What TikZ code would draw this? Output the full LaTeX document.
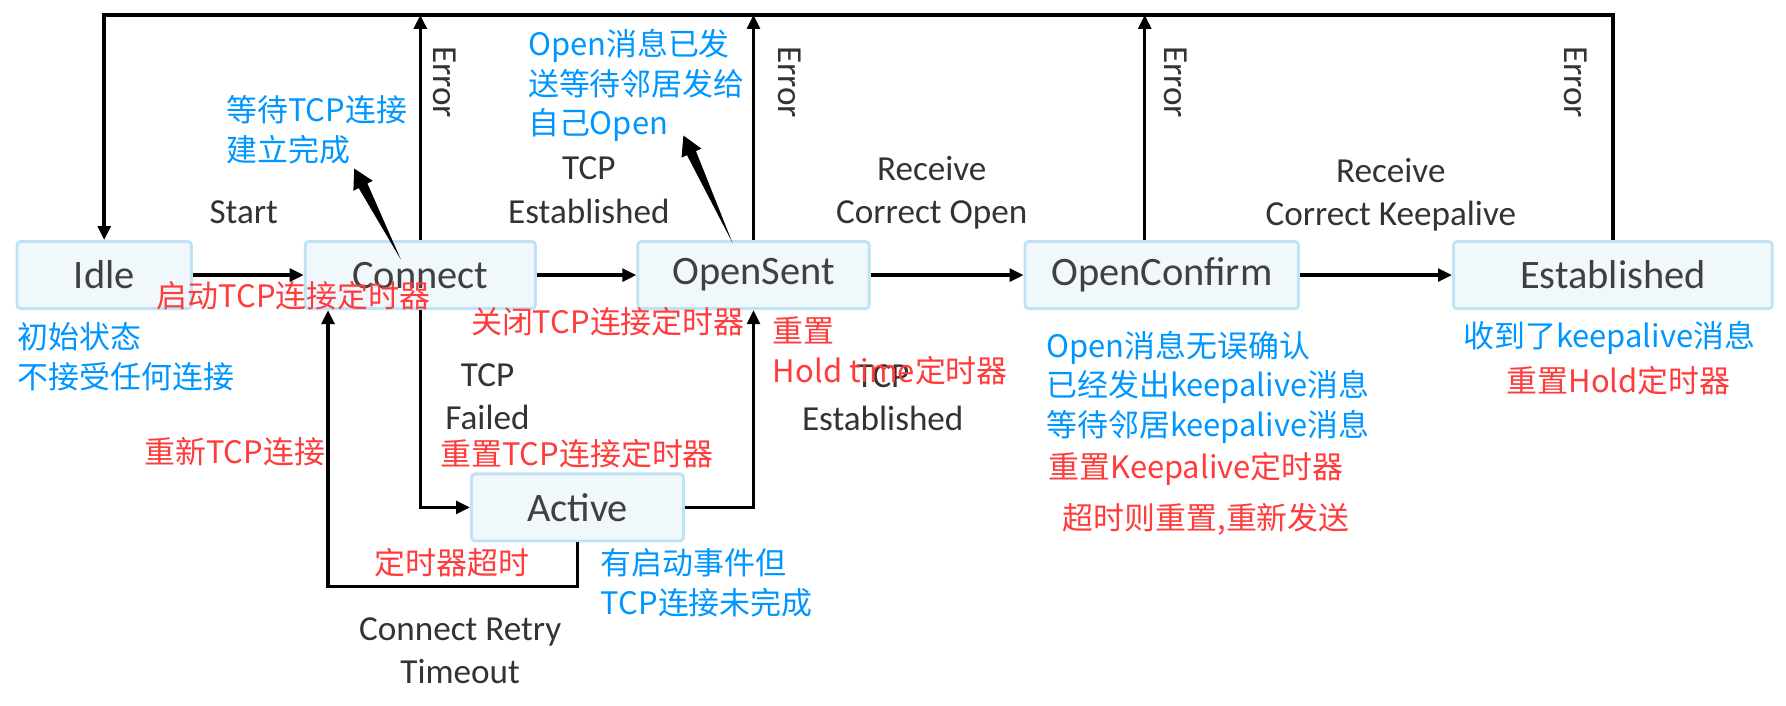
\documentclass[tikz,border=0pt]{standalone}
\usepackage{fontspec}
\setmainfont{Carlito}
\newfontfamily\cjk{Noto Sans CJK SC}
\usetikzlibrary{arrows.meta, calc}
\definecolor{boxfill}{HTML}{F1F8FC}
\definecolor{boxline}{HTML}{BFE3F5}
\definecolor{statetxt}{HTML}{404040}
\definecolor{lbltxt}{HTML}{333333}
\definecolor{noteblue}{HTML}{0096FF}
\definecolor{notered}{HTML}{FF3B3B}

\tikzset{
  state/.style={draw=boxline, fill=boxfill, line width=0.8pt, rounded corners=1pt,
    minimum height=19.1pt, inner sep=0pt, text=statetxt, font=\fontsize{11.5}{14}\selectfont},
  flow/.style={draw=black, line width=1pt, line join=miter, -{Triangle[length=4pt, width=3.6pt]}},
  lbl/.style={text=lbltxt, font=\fontsize{10}{12.3}\selectfont, align=center, inner sep=0pt},
  errlbl/.style={lbl, rotate=-90},
  bluenote/.style={text=noteblue, font=\cjk\fontsize{8.8}{11.3}\selectfont, align=left, inner sep=0pt},
  rednote/.style={text=notered, font=\cjk\fontsize{8.8}{11.6}\selectfont, align=left, inner sep=0pt}
}

% tapered pointer from a state to its note
\newcommand{\pointer}[2]{%
  \coordinate (pb) at ($(#2)!5.5pt!(#1)$);
  \fill[black] (#1) -- ($(pb)!1.4pt!90:(#2)$) -- ($(pb)!3.1pt!90:(#2)$) -- (#2)
    -- ($(pb)!3.1pt!-90:(#2)$) -- ($(pb)!1.4pt!-90:(#2)$) -- cycle;}

\begin{document}
\begin{tikzpicture}[x=0.32407pt, y=-0.32407pt]

\useasboundingbox[fill=white] (0,0) rectangle (1568,619);

% ============================================================
% States
% ============================================================
\node[state, minimum width=49.6pt] (idle) at (91.5,241.5) {Idle};
\node[state, minimum width=65.5pt] (connect) at (369,241.5) {Connect};
\node[state, minimum width=65.8pt] (opensent) at (661.5,241.5) {OpenSent};
\node[state, minimum width=77.8pt] (openconfirm) at (1020,241.5) {OpenConfirm};
\node[state, minimum width=90.7pt] (established) at (1416,241.5) {Established};
\node[state, minimum width=60.3pt] (active) at (507,445.5) {Active};

\coordinate (topL) at (91.5,13);
\coordinate (retry) at (288,515);

% ============================================================
% Transitions
% ============================================================
\draw[flow] (idle) -- (connect);
\draw[flow] (connect) -- (opensent);
\draw[flow] (opensent) -- (openconfirm);
\draw[flow] (openconfirm) -- (established);

% Error paths back to Idle
\draw[flow] (established.north) |- (topL) -- (idle.north);
\draw[flow] (connect.north) -- (connect.north |- topL);
\draw[flow] (opensent.north) -- (opensent.north |- topL);
\draw[flow] ($(openconfirm.north)+(-15,0)$) -- ($(openconfirm.north |- topL)+(-15,0)$);

% Connect / Active loop
\draw[flow] (connect.south) |- (active.west);
\draw[flow] (active.east) -| (opensent.south);
\draw[flow] (active.south) |- (retry) -- (retry |- connect.south);

% Event labels
\node[lbl] (start) at (214,186) {Start};
\node[lbl] (tcpest) at (517,167) {TCP\\Established};
\node[lbl] (rcvopen) at (818,169) {Receive\\Correct Open};
\node[lbl] (rcvkeep) at (1221,171) {Receive\\Correct Keepalive};
\node[lbl] (tcpfail) at (428,348) {TCP\\Failed};
\node[lbl] (tcpest2) at (775,349) {TCP\\Established};
\node[lbl] (retrylbl) at (404,571) {Connect Retry\\Timeout};
\foreach \ex/\nm in {390/err1, 693/err2, 1032/err3, 1383/err4} {
  \node[errlbl] (\nm) at (\ex,72) {Error};
}

% ============================================================
% Notes
% ============================================================
\node[bluenote, anchor=west] (waittcp) at (198,114) {等待TCP连接\\建立完成};
\node[bluenote, anchor=west] (waitopen) at (463,75) {Open消息已发\\送等待邻居发给\\自己Open};
\node[bluenote, anchor=west] (idlenote) at (15,313) {初始状态\\不接受任何连接};
\node[bluenote, anchor=west] (activenote) at (527,512) {有启动事件但\\TCP连接未完成};
\node[bluenote, anchor=west] (confirmnote) at (918,340) {Open消息无误确认\\已经发出keepalive消息\\等待邻居keepalive消息};
\node[bluenote, anchor=west] (estnote) at (1284,297) {收到了keepalive消息};

\node[rednote, anchor=west] (starttimer) at (137,260) {启动TCP连接定时器};
\node[rednote, anchor=west] (closetimer) at (413,282) {关闭TCP连接定时器};
\node[rednote, anchor=west] (holdreset) at (678,308) {重置\\Hold time定时器};
\node[rednote, anchor=east] (reconnect) at (286,397) {重新TCP连接};
\node[rednote, anchor=west] (resettimer) at (386,398) {重置TCP连接定时器};
\node[rednote, anchor=west] (timeout) at (328,494) {定时器超时};
\node[rednote] (keepreset) at (1050,412) {重置Keepalive定时器};
\node[rednote] (resend) at (1059,456) {超时则重置,重新发送};
\node[rednote] (holdreset2) at (1421,334) {重置Hold定时器};

% Pointers
\coordinate (ptail1) at (352,228);
\coordinate (ptip1) at (311,148);
\coordinate (ptail2) at (643,213);
\coordinate (ptip2) at (600,119);
\pointer{ptail1}{ptip1}
\pointer{ptail2}{ptip2}

\end{tikzpicture}
\end{document}
